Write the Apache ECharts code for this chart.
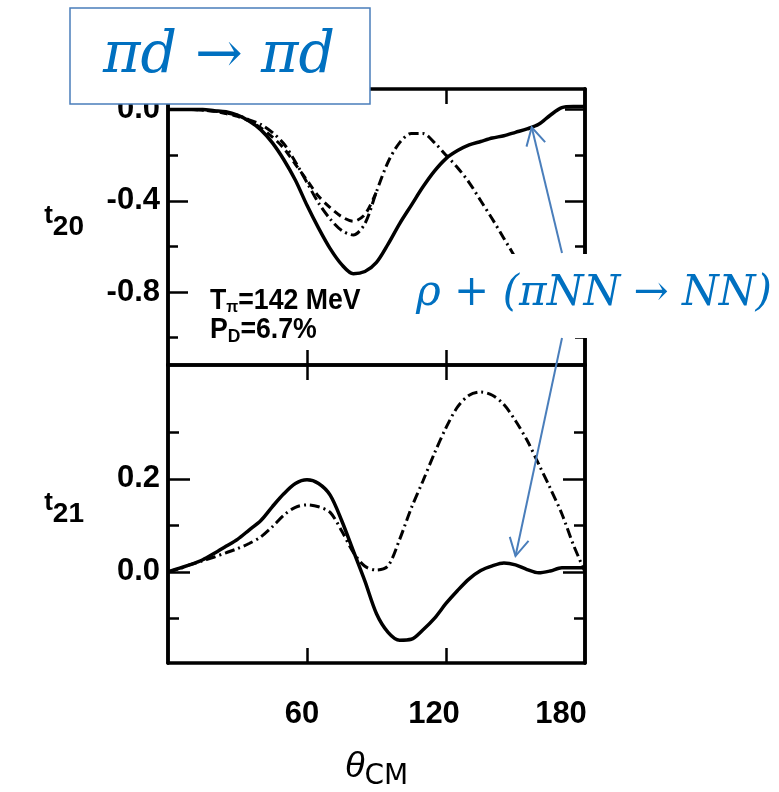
<!DOCTYPE html>
<html>
<head>
<meta charset="utf-8">
<script src="https://cdn.jsdelivr.net/npm/echarts@6/dist/echarts.min.js"></script>
<style>
  html, body { margin: 0; padding: 0; background: #fff; }
  #chart { width: 779px; height: 792px; }
</style>
</head>
<body>
<div id="chart"></div>
<script>
// angle grid (degrees, CM frame)
var angles = [0, 5, 10, 15, 20, 25, 30, 35, 40, 45, 50, 55, 60, 65, 70, 75, 80, 85, 90,
  95, 100, 105, 110, 115, 120, 125, 130, 135, 140, 145, 150, 155, 160, 165, 170, 175, 180];

// t20, full calculation (solid)
var t20Solid = [0, 0, 0, 0, -0.005, -0.01, -0.025, -0.05, -0.088, -0.145, -0.22, -0.31, -0.42,
  -0.52, -0.61, -0.68, -0.72, -0.71, -0.67, -0.59, -0.50, -0.42, -0.34, -0.27, -0.215, -0.18,
  -0.155, -0.14, -0.125, -0.115, -0.10, -0.085, -0.065, -0.025, 0.008, 0.013, 0.013];
// t20, dash-dot curve (runs off under the label)
var t20DashDot = [0, 0, 0, -0.003, -0.006, -0.015, -0.025, -0.045, -0.065, -0.10, -0.15, -0.23,
  -0.32, -0.41, -0.48, -0.53, -0.55, -0.50, -0.36, -0.23, -0.145, -0.105, -0.105, -0.145, -0.20,
  -0.255, -0.32, -0.40, -0.48, -0.565, -0.65];
// t20, second dashed curve (shallower minimum)
var t20Dashed = [0, 0, 0, -0.003, -0.008, -0.018, -0.03, -0.05, -0.08, -0.12, -0.17, -0.24,
  -0.31, -0.38, -0.43, -0.47, -0.49, -0.46, -0.36];

// t21
var t21Solid = [0, 0.008, 0.016, 0.026, 0.04, 0.055, 0.07, 0.09, 0.11, 0.14, 0.168, 0.19, 0.198,
  0.19, 0.165, 0.11, 0.045, -0.02, -0.09, -0.13, -0.147, -0.145, -0.125, -0.10, -0.068, -0.04,
  -0.015, 0.003, 0.013, 0.019, 0.015, 0.005, -0.002, 0.002, 0.009, 0.009, 0.009];
var t21DashDot = [0, 0.007, 0.016, 0.024, 0.032, 0.041, 0.05, 0.061, 0.075, 0.097, 0.122, 0.139,
  0.144, 0.14, 0.128, 0.088, 0.042, 0.012, 0.004, 0.013, 0.07, 0.137, 0.195, 0.255, 0.31, 0.355,
  0.38, 0.387, 0.38, 0.36, 0.325, 0.283, 0.232, 0.18, 0.125, 0.058, 0];

// ticks and labels
var angleTicks = [60, 120];
var angleLabels = [60, 120, 180];
var t20Major = [0, -0.4, -0.8];
var t20Minor = [-0.2, -0.6, -1.0];
var t21Major = [0, 0.2];
var t21Minor = [-0.1, 0.1, 0.3];

var black = '#000';
var mathBlue = '#0070c0';
var arrowBlue = '#4a7ebb';
var tickFont = { fontSize: 31, fontWeight: 'bold', fontFamily: 'Liberation Sans', color: black };

var chart = echarts.init(document.getElementById('chart'));

function pairs(vals) {
  return vals.map(function (v, i) { return [angles[i], v]; });
}

function xAxisFor(grid, pos, withLabels) {
  var ax = {
    type: 'value', gridIndex: grid, position: pos, min: 0, max: 180,
    axisLine: { show: true, onZero: false, lineStyle: { color: black, width: 3.5 } },
    axisTick: { show: true, inside: true, length: 15, customValues: angleTicks,
      lineStyle: { color: black, width: 2.5 } },
    axisLabel: { show: false },
    splitLine: { show: false }
  };
  if (withLabels) {
    ax.axisLabel = {
      show: true, customValues: angleLabels, margin: 36,
      formatter: function (v) { return '{p' + v + '|' + v + '}'; },
      rich: {
        p60: Object.assign({ padding: [0, 10, 0, 0] }, tickFont),
        p120: Object.assign({ padding: [0, 24, 0, 0] }, tickFont),
        p180: Object.assign({ padding: [0, 48, 0, 0] }, tickFont)
      }
    };
    ax.name = '{t|θ}{s|CM}';
    ax.nameLocation = 'middle';
    ax.nameGap = 80;
    ax.nameTextStyle = {
      rich: {
        t: { fontSize: 36, fontStyle: 'italic', fontFamily: 'Liberation Sans', color: black },
        s: { fontSize: 28, fontFamily: 'DejaVu Sans', color: black, padding: [20, 0, 0, 0] }
      }
    };
  }
  return ax;
}

function yAxisFor(grid, pos, min, max, ticks, len, labelled, name) {
  var ax = {
    type: 'value', gridIndex: grid, position: pos, min: min, max: max,
    axisLine: { show: true, onZero: false, lineStyle: { color: black, width: 3.5 } },
    axisTick: { show: true, inside: true, length: len, customValues: ticks,
      lineStyle: { color: black, width: 2.5 } },
    axisLabel: { show: false },
    splitLine: { show: false }
  };
  if (labelled) {
    ax.axisLabel = Object.assign({
      show: true, customValues: ticks, margin: 8,
      formatter: function (v) { return v.toFixed(1); }
    }, tickFont);
    ax.name = '{t|t}{s|' + name + '}';
    ax.nameLocation = 'middle';
    ax.nameRotate = 0;
    ax.nameGap = 84;
    ax.nameTextStyle = {
      rich: {
        t: { fontSize: 26, fontWeight: 'bold', fontFamily: 'Liberation Sans', color: black, padding: [0, 0, 22, 0] },
        s: { fontSize: 28, fontWeight: 'bold', fontFamily: 'Liberation Sans', color: black }
      }
    };
  }
  return ax;
}

var t20Min = -1.12, t20Max = 0.09;
var t21Min = -0.196, t21Max = 0.445;

var solidStyle = { color: black, width: 3.5 };
var dashDotStyle = { color: black, width: 3, type: [10, 4, 2, 4] };

var option = {
  backgroundColor: '#fff',
  animation: false,
  grid: [
    { left: 168, width: 417, top: 89, height: 276 },
    { left: 168, width: 417, top: 365, height: 298 }
  ],
  xAxis: [
    xAxisFor(0, 'bottom', false),
    xAxisFor(0, 'top', false),
    xAxisFor(1, 'bottom', true),
    xAxisFor(1, 'top', false)
  ],
  yAxis: [
    yAxisFor(0, 'left', t20Min, t20Max, t20Major, 20, true, '20'),
    yAxisFor(0, 'left', t20Min, t20Max, t20Minor, 10, false),
    yAxisFor(0, 'right', t20Min, t20Max, t20Major, 20, false),
    yAxisFor(0, 'right', t20Min, t20Max, t20Minor, 10, false),
    yAxisFor(1, 'left', t21Min, t21Max, t21Major, 22, true, '21'),
    yAxisFor(1, 'left', t21Min, t21Max, t21Minor, 11, false),
    yAxisFor(1, 'right', t21Min, t21Max, t21Major, 22, false),
    yAxisFor(1, 'right', t21Min, t21Max, t21Minor, 11, false)
  ],
  series: [
    { type: 'line', xAxisIndex: 0, yAxisIndex: 0, data: pairs(t20Solid), showSymbol: false,
      smooth: 0.3, lineStyle: solidStyle, silent: true },
    { type: 'line', xAxisIndex: 0, yAxisIndex: 0, data: pairs(t20DashDot), showSymbol: false,
      smooth: 0.3, lineStyle: dashDotStyle, silent: true },
    { type: 'line', xAxisIndex: 0, yAxisIndex: 0, data: pairs(t20Dashed), showSymbol: false,
      smooth: 0.3, lineStyle: { color: black, width: 3, type: [8, 5] }, silent: true },
    { type: 'line', xAxisIndex: 2, yAxisIndex: 4, data: pairs(t21Solid), showSymbol: false,
      smooth: 0.3, lineStyle: solidStyle, silent: true },
    { type: 'line', xAxisIndex: 2, yAxisIndex: 4, data: pairs(t21DashDot), showSymbol: false,
      smooth: 0.3, lineStyle: dashDotStyle, silent: true }
  ]
};
chart.setOption(option);

// arrow from a point to a tip, with an open head
function arrow(from, to) {
  var ang = Math.atan2(to[1] - from[1], to[0] - from[0]);
  var len = 20, spread = 0.5;
  var w1 = [to[0] - len * Math.cos(ang - spread), to[1] - len * Math.sin(ang - spread)];
  var w2 = [to[0] - len * Math.cos(ang + spread), to[1] - len * Math.sin(ang + spread)];
  return [
    { type: 'line', z: 110, shape: { x1: from[0], y1: from[1], x2: to[0], y2: to[1] },
      style: { stroke: arrowBlue, lineWidth: 2 } },
    { type: 'polyline', z: 110, shape: { points: [w1, to, w2] },
      style: { stroke: arrowBlue, lineWidth: 2, fill: null } }
  ];
}

var tipTop = chart.convertToPixel({ xAxisIndex: 0, yAxisIndex: 0 }, [157, -0.078]);
var tipBottom = chart.convertToPixel({ xAxisIndex: 2, yAxisIndex: 4 }, [150, 0.034]);

var noteFont = { fontWeight: 'bold', fontFamily: 'Liberation Sans', fill: black };

var graphics = [
  // title box
  { type: 'rect', z: 100, shape: { x: 70, y: 8, width: 300, height: 96 },
    style: { fill: '#fff', stroke: arrowBlue, lineWidth: 1.5 } },
  { type: 'text', z: 101, x: 219, y: 57,
    style: { text: 'πd → πd', fill: mathBlue, fontSize: 57, fontStyle: 'italic',
      fontFamily: 'DejaVu Serif', align: 'center', verticalAlign: 'middle' } },
  // label over the right side
  { type: 'rect', z: 100, shape: { x: 405, y: 254, width: 374, height: 84 },
    style: { fill: '#fff' } },
  { type: 'text', z: 101, x: 594, y: 294,
    style: { text: 'ρ + (πNN → NN)', fill: mathBlue, fontSize: 42, fontStyle: 'italic',
      fontFamily: 'DejaVu Serif', align: 'center', verticalAlign: 'middle' } },
  // kinematics note
  { type: 'text', z: 101, x: 210, y: 301, scaleX: 0.92,
    style: { text: '{a|T}{s|π}{a|=142 MeV}', verticalAlign: 'middle',
      rich: {
        a: Object.assign({ fontSize: 29 }, noteFont),
        s: Object.assign({ fontSize: 17, padding: [12, 0, 0, 0] }, noteFont)
      } } },
  { type: 'text', z: 101, x: 210, y: 330, scaleX: 0.92,
    style: { text: '{a|P}{s|D}{a|=6.7%}', verticalAlign: 'middle',
      rich: {
        a: Object.assign({ fontSize: 29 }, noteFont),
        s: Object.assign({ fontSize: 19, padding: [14, 0, 0, 0] }, noteFont)
      } } }
].concat(arrow([562, 253], tipTop), arrow([562, 338], tipBottom));

chart.setOption({ graphic: graphics });
</script>
</body>
</html>
